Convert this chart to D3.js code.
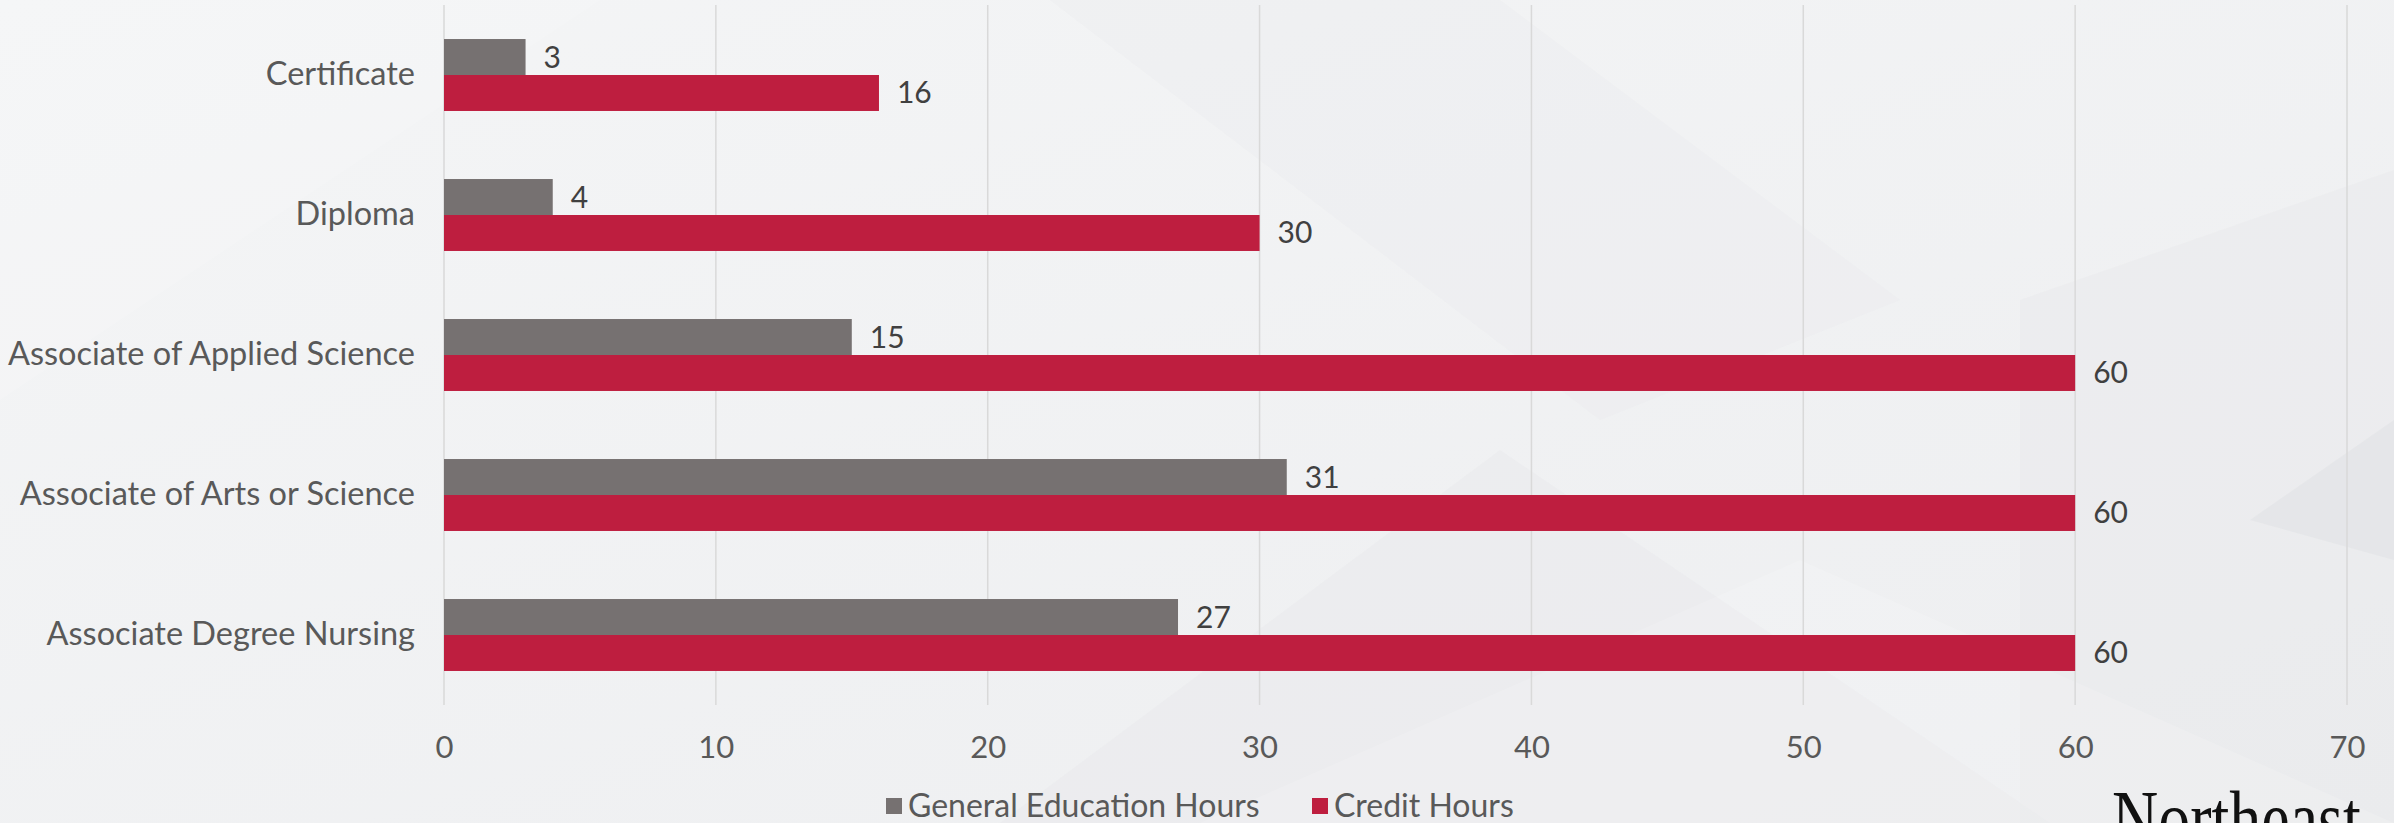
<!DOCTYPE html>
<html>
<head>
<meta charset="utf-8">
<script src="https://cdn.jsdelivr.net/npm/d3@7"></script>
<style>
  html, body { margin: 0; padding: 0; background: #f1f2f3; overflow: hidden; }
  text { font-family: Lato, "Open Sans", sans-serif; }
</style>
</head>
<body>
<svg id="chart" width="2394" height="823"></svg>
<script>
const categories = ["Certificate", "Diploma", "Associate of Applied Science", "Associate of Arts or Science", "Associate Degree Nursing"];
const seriesNames = ["General Education Hours", "Credit Hours"];
const generalEdHours = [3, 4, 15, 31, 27];
const creditHours = [16, 30, 60, 60, 60];
const xTicks = [0, 10, 20, 30, 40, 50, 60, 70];

const colors = d3.scaleOrdinal().domain(seriesNames).range(["#767171", "#be1e3f"]);

const width = 2394, height = 823;
const margin = { top: 5, left: 444, right: 47, bottom: 118 };

const svg = d3.select("#chart");

// background: soft gray with faint geometric facets
const defs = svg.append("defs");
const grad = defs.append("linearGradient").attr("id", "bg").attr("x1", 0).attr("y1", 0).attr("x2", 1).attr("y2", 1);
grad.append("stop").attr("offset", "0%").attr("stop-color", "#f4f5f6");
grad.append("stop").attr("offset", "100%").attr("stop-color", "#edeef0");
svg.append("rect").attr("width", width).attr("height", height).attr("fill", "url(#bg)");

const facets = [
  { pts: [[1050, 0], [1500, 0], [1900, 300], [1600, 420]], fill: "#e6e8ea", op: 0.25 },
  { pts: [[1000, 823], [1500, 450], [2050, 823]], fill: "#e4e6e8", op: 0.3 },
  { pts: [[2020, 300], [2394, 170], [2394, 823], [2020, 823]], fill: "#e3e5e7", op: 0.3 },
  { pts: [[2250, 520], [2394, 420], [2394, 560]], fill: "#d9dcdf", op: 0.35 },
  { pts: [[1200, 823], [1800, 560], [2394, 823]], fill: "#ffffff", op: 0.15 },
  { pts: [[0, 0], [600, 0], [0, 400]], fill: "#ffffff", op: 0.15 }
];
svg.append("g").selectAll("polygon").data(facets).join("polygon")
  .attr("points", d => d.pts.map(p => p.join(",")).join(" "))
  .attr("fill", d => d.fill)
  .attr("opacity", d => d.op);

const x = d3.scaleLinear().domain([0, 70]).range([margin.left, width - margin.right]);
const y = d3.scaleBand().domain(categories)
  .range([margin.top, height - margin.bottom])
  .paddingInner(0.486).paddingOuter(0.243);
const ySub = d3.scaleBand().domain(seriesNames).range([0, y.bandwidth()]);

// gridlines
svg.append("g").selectAll("line").data(xTicks).join("line")
  .attr("x1", d => x(d)).attr("x2", d => x(d))
  .attr("y1", margin.top).attr("y2", height - margin.bottom)
  .attr("stroke", "#d9d9d9").attr("stroke-width", 1.5);

// x axis labels
const xAxis = d3.axisBottom(x).tickValues(xTicks).tickSize(0).tickPadding(0);
const xg = svg.append("g").attr("transform", `translate(0,${height - margin.bottom})`).call(xAxis);
xg.select(".domain").remove();
xg.selectAll("text")
  .attr("y", 42).attr("dy", "0.35em")
  .attr("fill", "#595959").style("font-size", "31px")
  .style("font-family", "Lato, sans-serif");

// y axis labels
const yAxis = d3.axisLeft(y).tickSize(0).tickPadding(0);
const yg = svg.append("g").attr("transform", `translate(${margin.left - 29},0)`).call(yAxis);
yg.select(".domain").remove();
yg.selectAll("text")
  .attr("fill", "#595959").style("font-size", "32.5px")
  .style("font-family", "Lato, sans-serif");

// bars
const rows = categories.map((c, i) => ({
  category: c,
  values: [
    { series: seriesNames[0], value: generalEdHours[i] },
    { series: seriesNames[1], value: creditHours[i] }
  ]
}));

const groups = svg.append("g").selectAll("g").data(rows).join("g")
  .attr("transform", d => `translate(0,${y(d.category)})`);

groups.selectAll("rect").data(d => d.values).join("rect")
  .attr("x", x(0))
  .attr("y", d => ySub(d.series))
  .attr("width", d => x(d.value) - x(0))
  .attr("height", ySub.bandwidth())
  .attr("fill", d => colors(d.series));

groups.selectAll("text.val").data(d => d.values).join("text")
  .attr("class", "val")
  .attr("x", d => x(d.value) + 18)
  .attr("y", d => ySub(d.series) + ySub.bandwidth() / 2)
  .attr("dy", "0.35em")
  .attr("fill", "#404040")
  .style("font-size", "30px")
  .text(d => d.value);

// legend
const legendItems = [
  { name: seriesNames[0], x: 886 },
  { name: seriesNames[1], x: 1312 }
];
const lg = svg.append("g").attr("transform", "translate(0,806)");
const li = lg.selectAll("g").data(legendItems).join("g")
  .attr("transform", d => `translate(${d.x},0)`);
li.append("rect").attr("x", 0).attr("y", -8).attr("width", 16).attr("height", 16)
  .attr("fill", d => colors(d.name));
li.append("text").attr("x", 22).attr("dy", "0.35em")
  .attr("fill", "#595959").style("font-size", "32px")
  .text(d => d.name);

// logo text, cut off at the bottom edge as in the original slide
svg.append("text")
  .attr("transform", "translate(2112,846) scale(0.8,1)")
  .style("font-family", "'Liberation Serif', 'DejaVu Serif', serif")
  .style("font-size", "80px")
  .attr("fill", "#111")
  .text("Northeast");
</script>
</body>
</html>
